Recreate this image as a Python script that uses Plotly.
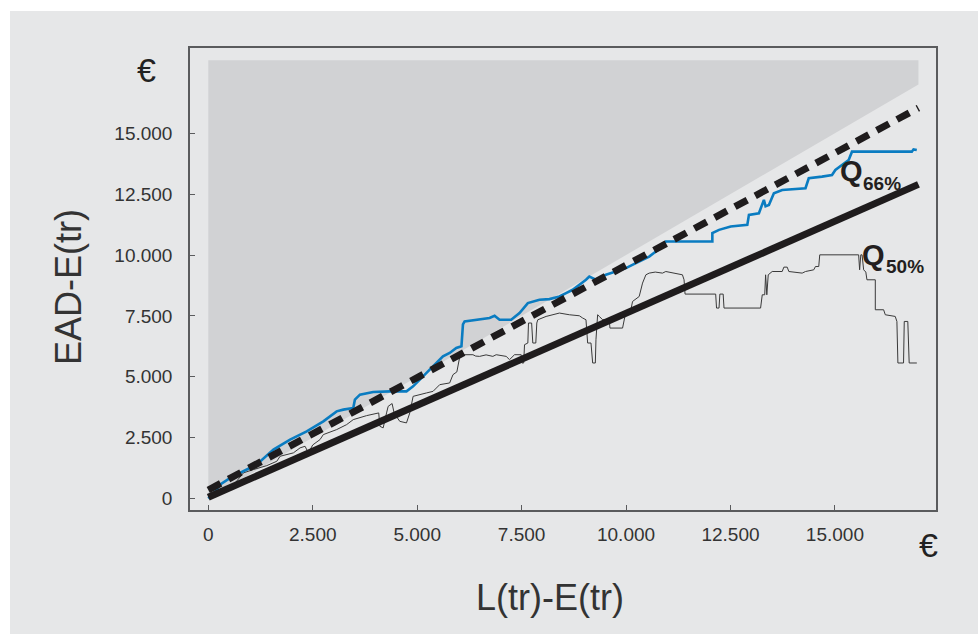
import plotly.graph_objects as go

# ---------------- data ----------------
x_tickvals = [0, 2500, 5000, 7500, 10000, 12500, 15000]
x_ticktext = ["0", "2.500", "5.000", "7.500", "10.000", "12.500", "15.000"]
y_tickvals = [0, 2500, 5000, 7500, 10000, 12500, 15000]
y_ticktext = ["0", "2.500", "5.000", "7.500", "10.000", "12.500", "15.000"]

# shaded area (EAD above L)
area_x = [0, 17000, 17000, 0, 0]
area_y = [0, 17000, 18000, 18000, 0]

# Q66% fitted line (thick dashed)
q66_x = [0, 17000]
q66_y = [350, 16040]

# Q50% fitted line (thick solid)
q50_x = [0, 17000]
q50_y = [50, 12900]

# observed 66% quantile (blue)
blue_x = [0, 150, 287, 525, 923, 1162, 1560, 1958, 2356, 2754, 3072, 3232, 3470, 3510, 3630,
          3947, 4346, 4744, 4903, 5062, 5380, 5618, 5778, 5936, 6060, 6096, 6136, 6415, 6733,
          6853, 6972, 7251, 7450, 7649, 7927, 8166, 8405, 8564, 8723, 9041, 9121, 9200, 9280,
          9519, 9758, 9997, 10236, 10554, 10793, 10950, 12066, 12066, 12226, 12505, 12903,
          12942, 13181, 13300, 13340, 13420, 13539, 13738, 14296, 14374, 14692, 14931, 15011,
          15330, 15409, 16842, 16882, 16960]
blue_y = [0, 250, 574, 850, 1190, 1395, 2010, 2420, 2760, 3170, 3580, 3650, 3720, 4060, 4265,
          4376, 4400, 4400, 4606, 4880, 5427, 5837, 5976, 6181, 6250, 7150, 7272, 7342, 7412,
          7506, 7342, 7342, 7617, 8027, 8162, 8190, 8298, 8437, 8573, 8983, 9118, 9050, 8983,
          9188, 9323, 9462, 9667, 9938, 10250, 10554, 10554, 10898, 11034, 11170, 11239,
          11649, 11717, 12264, 12000, 12059, 12539, 12674, 12744, 13154, 13220, 13289, 13495,
          13905, 14245, 14245, 14340, 14315]

# observed 50% quantile (thin black)
thin_x = [0, 300, 600, 843, 1082, 1400, 1640, 1719, 2037, 2197, 2316, 2396, 2500, 2674, 2754,
          3072, 3311, 3470, 3789, 4028, 4080, 4107, 4186, 4267, 4306, 4400, 4450, 4584, 4744,
          4823, 4903, 5221, 5380, 5540, 5778, 5857, 5950, 6017, 6096, 6335, 6400, 6495, 6650,
          6812, 6892, 7131, 7211, 7331, 7490, 7510, 7550, 7570, 7649, 7665, 7740, 7768, 7840,
          7864, 7888, 8087, 8405, 8644, 8882, 8962, 9041, 9081, 9161, 9201, 9265, 9280, 9320,
          9360, 9439, 9598, 9615, 9917, 9957, 9997, 10116, 10156, 10315, 10395, 10475, 10554,
          10700, 10872, 10952, 11191, 11350, 11389, 11413, 12146, 12166, 12226, 12246, 12325,
          12345, 13221, 13261, 13320, 13341, 13370, 13404, 13499, 13738, 13778, 13858, 13897,
          14216, 14296, 14494, 14534, 14613, 14637, 15568, 15592, 15620, 15650, 15688, 15740,
          15767, 15967, 15967, 16166, 16206, 16444, 16484, 16508, 16643, 16660, 16745, 16778,
          16961]
thin_y = [100, 250, 550, 1054, 1190, 1350, 1530, 1735, 1874, 2080, 2145, 1874, 2200, 2420, 2625,
          2830, 3035, 3240, 3404, 3515, 3515, 2966, 2900, 3515, 3786, 3900, 3500, 3170, 3105,
          3515, 4196, 4335, 4401, 4676, 4746, 5086, 5200, 5800, 5906, 5906, 5850, 5837, 5900,
          5837, 5906, 5837, 5702, 5906, 5906, 5566, 5566, 6317, 6386, 7207, 7207, 6386, 6386,
          7207, 7342, 7478, 7617, 7547, 7506, 7412, 7342, 6386, 6386, 5566, 5566, 6522, 7547,
          7480, 7342, 7342, 7000, 7000, 7342, 7683, 7752, 8093, 8298, 8847, 9188, 9257,
          9300, 9257, 9323, 9257, 9188, 8983, 8396, 8396, 7822, 7822, 8396, 8396,
          7822, 7822, 8367, 8367, 9188, 8367, 9188, 9323, 9323, 9503, 9503, 9323,
          9257, 9323, 9393, 9528, 9528, 10008, 10008, 9393, 10008, 10008, 9393, 9300,
          8983, 8983, 7752, 7752, 7547, 7478, 7272, 5566, 5566, 7272, 7272, 5566,
          5566]

# ---------------- geometry helpers ----------------
W, H = 978, 634
ML, MR, MT, MB = 190, 42, 48, 124
PW, PH = W - ML - MR, H - MT - MB


def px(x):
    return (x - ML) / PW


def py(y):
    return (H - MB - y) / PH


FONT = "Liberation Sans, Arial, sans-serif"
TXT = "#333333"

fig = go.Figure()

fig.add_trace(go.Scatter(x=area_x, y=area_y, fill="toself", fillcolor="#d1d2d4",
                         line=dict(width=0), mode="lines", hoverinfo="skip"))
fig.add_trace(go.Scatter(x=thin_x, y=thin_y, mode="lines",
                         line=dict(color="#3a3a3a", width=1, shape="linear")))
fig.add_trace(go.Scatter(x=blue_x, y=blue_y, mode="lines",
                         line=dict(color="#0a7cc1", width=2.6)))
fig.add_trace(go.Scatter(x=q50_x, y=q50_y, mode="lines",
                         line=dict(color="#1f1c1d", width=7)))
fig.add_trace(go.Scatter(x=q66_x, y=q66_y, mode="lines",
                         line=dict(color="#1f1c1d", width=7, dash="14px,9px")))

fig.update_layout(
    width=W, height=H,
    margin=dict(l=ML, r=MR, t=MT, b=MB),
    paper_bgcolor="white",
    plot_bgcolor="#e6e7e8",
    showlegend=False,
    font=dict(family=FONT, color=TXT),
    shapes=[dict(type="rect", xref="paper", yref="paper", layer="below",
                 x0=px(10), x1=px(W + 5), y0=py(H + 5), y1=py(11),
                 fillcolor="#e6e7e8", line=dict(width=0))],
)

axis_common = dict(showgrid=False, zeroline=False, showline=True, mirror=True,
                   linecolor="#5a5b5d", linewidth=1.5, ticks="inside", ticklen=5,
                   tickcolor="#5a5b5d", tickwidth=1,
                   tickfont=dict(family=FONT, size=19, color=TXT))

fig.update_xaxes(range=[-438, 17420], tickvals=x_tickvals, ticktext=x_ticktext,
                 ticklabelstandoff=6, **axis_common)
fig.update_yaxes(range=[-472, 18503], tickvals=y_tickvals, ticktext=y_ticktext,
                 ticklabelstandoff=12, **axis_common)

annotations = [
    dict(text="EAD-E(tr)", x=px(68), y=py(287), textangle=-90,
         font=dict(size=36, color=TXT)),
    dict(text="L(tr)-E(tr)", x=px(550), y=py(597), font=dict(size=36, color=TXT)),
    dict(text="€", x=px(146), y=py(70), font=dict(size=34, color="#222")),
    dict(text="€", x=px(928), y=py(545), font=dict(size=34, color="#222")),
    dict(text="<b>Q</b>", x=px(851), y=py(171), font=dict(size=29, color="#231f20")),
    dict(text="<b>66%</b>", x=px(882), y=py(183), font=dict(size=19, color="#231f20")),
    dict(text="<b>Q</b>", x=px(873), y=py(255), font=dict(size=29, color="#231f20")),
    dict(text="<b>50%</b>", x=px(905), y=py(266), font=dict(size=19, color="#231f20")),
]
for a in annotations:
    a.update(xref="paper", yref="paper", showarrow=False, xanchor="center", yanchor="middle")
fig.update_layout(annotations=annotations)

fig.write_html("out.html")
